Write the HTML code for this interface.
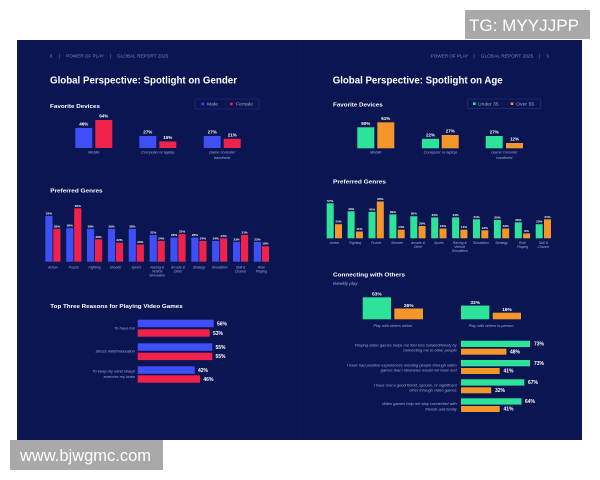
<!DOCTYPE html>
<html><head><meta charset="utf-8"><style>
html,body{margin:0;padding:0;background:#fff;width:600px;height:480px;overflow:hidden}
svg{display:block}
text{font-family:"Liberation Sans",Arial,sans-serif}
.h{fill:#fff;font-weight:bold}
.hd{fill:#7f87b5;font-size:4.2px}
.v{fill:#fff;font-weight:bold;text-anchor:middle}
.lb{fill:#a4aad4;font-style:italic;text-anchor:middle;font-size:3.9px}
.gl{fill:#a4aad4;font-style:italic;text-anchor:middle;font-size:3.4px}
.gv{fill:#fff;font-weight:bold;text-anchor:middle;font-size:3.1px}
.rl{fill:#a4aad4;font-style:italic;text-anchor:end;font-size:4px}
.hv{fill:#fff;font-weight:bold;font-size:5px}
</style></head><body>
<svg width="600" height="480" viewBox="0 0 600 480" xmlns="http://www.w3.org/2000/svg">
<rect x="0" y="0" width="600" height="480" fill="#fff"/>
<rect x="17" y="40" width="565" height="400" fill="#0b1552"/>
<line x1="300" y1="40" x2="300" y2="440" stroke="#121c5c" stroke-width="1"/>

<!-- watermarks -->
<rect x="465" y="10" width="125" height="29" fill="#a9a9a9"/>
<text x="469" y="31" font-size="17" fill="#fff" textLength="110" lengthAdjust="spacingAndGlyphs">TG: MYYJJPP</text>
<rect x="10" y="440" width="153" height="30" fill="#a9a9a9"/>
<text x="20" y="461" font-size="16.5" fill="#fff" textLength="131" lengthAdjust="spacingAndGlyphs">www.bjwgmc.com</text>

<!-- LEFT PAGE -->
<text class="hd" x="50" y="57.5">8</text>
<text class="hd" x="59" y="57.5">|</text>
<text class="hd" x="66.3" y="57.5" textLength="37.7" lengthAdjust="spacingAndGlyphs">POWER OF PLAY</text>
<text class="hd" x="110" y="57.5">|</text>
<text class="hd" x="117" y="57.5" textLength="51.3" lengthAdjust="spacingAndGlyphs">GLOBAL REPORT 2025</text>

<text class="h" x="50" y="83.5" font-size="10" textLength="187" lengthAdjust="spacingAndGlyphs">Global Perspective: Spotlight on Gender</text>
<text class="h" x="50" y="108" font-size="5.5" textLength="50" lengthAdjust="spacingAndGlyphs">Favorite Devices</text>

<rect x="195" y="99" width="64" height="10" rx="1" fill="none" stroke="#2a3583" stroke-width="0.6"/>
<rect x="201.5" y="102.7" width="2.6" height="2.6" fill="#3e4ff5"/>
<text x="207" y="105.6" font-size="4.3" fill="#a4aad4" textLength="11" lengthAdjust="spacingAndGlyphs">Male</text>
<rect x="230" y="102.7" width="2.6" height="2.6" fill="#f0214a"/>
<text x="236" y="105.6" font-size="4.3" fill="#a4aad4" textLength="17" lengthAdjust="spacingAndGlyphs">Female</text>

<!-- left devices -->
<rect x="75.3" y="128" width="17" height="20" fill="#3e4ff5"/>
<rect x="95.3" y="120" width="17" height="28" fill="#f0214a"/>
<rect x="139.3" y="136" width="17" height="12" fill="#3e4ff5"/>
<rect x="159.3" y="141.4" width="17" height="6.6" fill="#f0214a"/>
<rect x="203.7" y="136" width="17" height="12" fill="#3e4ff5"/>
<rect x="223.7" y="138.8" width="17" height="9.2" fill="#f0214a"/>
<g class="v" font-size="4.5">
<text x="83.8" y="125.5">46%</text>
<text x="103.8" y="117.5">64%</text>
<text x="147.8" y="133.5">27%</text>
<text x="167.8" y="138.9">15%</text>
<text x="212.2" y="133.5">27%</text>
<text x="232.2" y="136.3">21%</text>
</g>
<text class="lb" x="93.8" y="153.5">Mobile</text>
<text class="lb" x="157.8" y="153.5">Computer or laptop</text>
<text class="lb" x="222" y="153.5">Game console/</text>
<text class="lb" x="222" y="159">handheld</text>

<!-- left genres -->
<text class="h" x="50.3" y="192.5" font-size="5.5" textLength="52.3" lengthAdjust="spacingAndGlyphs">Preferred Genres</text>
<g fill="#3e4ff5">
<rect x="45.3" y="216.0" width="7.2" height="45.7"/>
<rect x="66.2" y="228.1" width="7.2" height="33.6"/>
<rect x="87.0" y="228.9" width="7.2" height="32.8"/>
<rect x="107.9" y="228.9" width="7.2" height="32.8"/>
<rect x="128.7" y="228.9" width="7.2" height="32.8"/>
<rect x="149.6" y="235.0" width="7.2" height="26.7"/>
<rect x="170.4" y="237.6" width="7.2" height="24.1"/>
<rect x="191.3" y="237.6" width="7.2" height="24.1"/>
<rect x="212.1" y="241.0" width="7.2" height="20.7"/>
<rect x="233.0" y="241.9" width="7.2" height="19.8"/>
<rect x="253.8" y="241.9" width="7.2" height="19.8"/>
</g>
<g fill="#f0214a">
<rect x="53.3" y="228.9" width="7.2" height="32.8"/>
<rect x="74.2" y="208.3" width="7.2" height="53.4"/>
<rect x="95.0" y="239.3" width="7.2" height="22.4"/>
<rect x="115.9" y="242.7" width="7.2" height="19.0"/>
<rect x="136.7" y="244.5" width="7.2" height="17.2"/>
<rect x="157.6" y="241.0" width="7.2" height="20.7"/>
<rect x="178.4" y="234.1" width="7.2" height="27.6"/>
<rect x="199.3" y="241.0" width="7.2" height="20.7"/>
<rect x="220.1" y="238.4" width="7.2" height="23.3"/>
<rect x="241.0" y="235.0" width="7.2" height="26.7"/>
<rect x="261.8" y="246.2" width="7.2" height="15.5"/>
</g>
<g class="gv">
<text x="48.9" y="214.5">53%</text><text x="56.9" y="227.4">38%</text>
<text x="69.8" y="226.6">39%</text><text x="77.8" y="206.8">62%</text>
<text x="90.6" y="227.4">38%</text><text x="98.6" y="237.8">26%</text>
<text x="111.5" y="227.4">38%</text><text x="119.5" y="241.2">22%</text>
<text x="132.3" y="227.4">38%</text><text x="140.3" y="243.0">20%</text>
<text x="153.2" y="233.5">31%</text><text x="161.2" y="239.5">24%</text>
<text x="174.0" y="236.1">28%</text><text x="182.0" y="232.6">32%</text>
<text x="194.9" y="236.1">28%</text><text x="202.9" y="239.5">24%</text>
<text x="215.7" y="239.5">24%</text><text x="223.7" y="236.9">27%</text>
<text x="236.6" y="240.4">23%</text><text x="244.6" y="233.5">31%</text>
<text x="257.4" y="240.4">23%</text><text x="265.4" y="244.7">18%</text>
</g>
<g class="gl">
<text x="52.9" y="268.3">Action</text>
<text x="73.8" y="268.3">Puzzle</text>
<text x="94.6" y="268.3">Fighting</text>
<text x="115.5" y="268.3">Shooter</text>
<text x="136.3" y="268.3">Sports</text>
<text x="157.2" y="268.3">Racing &amp;</text><text x="157.2" y="272.5">Vehicle</text><text x="157.2" y="276.7">Simulation</text>
<text x="178.0" y="268.3">Arcade &amp;</text><text x="178.0" y="272.5">Other</text>
<text x="198.9" y="268.3">Strategy</text>
<text x="219.7" y="268.3">Simulation</text>
<text x="240.6" y="268.3">Skill &amp;</text><text x="240.6" y="272.5">Chance</text>
<text x="261.4" y="268.3">Role</text><text x="261.4" y="272.5">Playing</text>
</g>

<!-- reasons -->
<text class="h" x="50.3" y="307.8" font-size="5.2" textLength="132.4" lengthAdjust="spacingAndGlyphs">Top Three Reasons for Playing Video Games</text>
<rect x="137.7" y="319.7" width="76" height="7.5" fill="#3e4ff5"/>
<rect x="137.7" y="329.3" width="72" height="7.4" fill="#f0214a"/>
<rect x="137.7" y="343.3" width="74.6" height="7.5" fill="#3e4ff5"/>
<rect x="137.7" y="352.7" width="74.6" height="7.4" fill="#f0214a"/>
<rect x="137.7" y="366.3" width="57" height="7.5" fill="#3e4ff5"/>
<rect x="137.7" y="375.3" width="62.4" height="7.4" fill="#f0214a"/>
<text class="hv" x="217" y="325.3">56%</text>
<text class="hv" x="213" y="334.8">53%</text>
<text class="hv" x="215.5" y="348.9">55%</text>
<text class="hv" x="215.5" y="358.2">55%</text>
<text class="hv" x="198" y="371.9">42%</text>
<text class="hv" x="203.4" y="380.8">46%</text>
<text class="rl" x="135" y="329.5">To have fun</text>
<text class="rl" x="135" y="352.7">Stress relief/relaxation</text>
<text class="rl" x="135" y="372.3">To keep my mind sharp/</text>
<text class="rl" x="135" y="377.8">exercise my brain</text>

<!-- RIGHT PAGE -->
<text class="hd" x="430.7" y="57.5" textLength="37.6" lengthAdjust="spacingAndGlyphs">POWER OF PLAY</text>
<text class="hd" x="473.5" y="57.5">|</text>
<text class="hd" x="480.7" y="57.5" textLength="52.6" lengthAdjust="spacingAndGlyphs">GLOBAL REPORT 2025</text>
<text class="hd" x="539" y="57.5">|</text>
<text class="hd" x="546.5" y="57.5">9</text>

<text class="h" x="332.7" y="83.5" font-size="10" textLength="170" lengthAdjust="spacingAndGlyphs">Global Perspective: Spotlight on Age</text>
<text class="h" x="333" y="106.5" font-size="5.5" textLength="49.7" lengthAdjust="spacingAndGlyphs">Favorite Devices</text>

<rect x="467.7" y="99" width="73" height="9.3" rx="1" fill="none" stroke="#2a3583" stroke-width="0.6"/>
<rect x="473" y="102.4" width="2.6" height="2.6" fill="#2de39a"/>
<text x="478" y="105.3" font-size="4.3" fill="#a4aad4" textLength="20.5" lengthAdjust="spacingAndGlyphs">Under 35</text>
<rect x="510.7" y="102.4" width="2.6" height="2.6" fill="#f4962a"/>
<text x="516" y="105.3" font-size="4.3" fill="#a4aad4" textLength="18.3" lengthAdjust="spacingAndGlyphs">Over 55</text>

<rect x="357.3" y="127.3" width="17" height="21" fill="#2de39a"/>
<rect x="377.3" y="122.3" width="17" height="26" fill="#f4962a"/>
<rect x="422" y="138.8" width="17" height="9.5" fill="#2de39a"/>
<rect x="441.7" y="135" width="17" height="13.3" fill="#f4962a"/>
<rect x="485.7" y="136" width="17" height="12.3" fill="#2de39a"/>
<rect x="506" y="143" width="17" height="5.3" fill="#f4962a"/>
<g class="v" font-size="4.5">
<text x="365.8" y="124.8">50%</text>
<text x="385.8" y="119.8">61%</text>
<text x="430.5" y="136.3">22%</text>
<text x="450.2" y="132.5">27%</text>
<text x="494.2" y="133.5">27%</text>
<text x="514.5" y="140.5">12%</text>
</g>
<text class="lb" x="375.8" y="153.5">Mobile</text>
<text class="lb" x="440.3" y="153.5">Computer or laptop</text>
<text class="lb" x="504.3" y="153.5">Game console/</text>
<text class="lb" x="504.3" y="159">handheld</text>

<!-- right genres -->
<text class="h" x="333" y="183.5" font-size="5.5" textLength="53" lengthAdjust="spacingAndGlyphs">Preferred Genres</text>
<g fill="#2de39a">
<rect x="326.7" y="203.3" width="7" height="35.0"/>
<rect x="347.6" y="211.3" width="7" height="27.0"/>
<rect x="368.5" y="211.9" width="7" height="26.4"/>
<rect x="389.4" y="214.4" width="7" height="23.9"/>
<rect x="410.3" y="216.2" width="7" height="22.1"/>
<rect x="431.2" y="217.4" width="7" height="20.9"/>
<rect x="452.1" y="217.4" width="7" height="20.9"/>
<rect x="473.0" y="219.3" width="7" height="19.0"/>
<rect x="493.9" y="219.9" width="7" height="18.4"/>
<rect x="514.8" y="222.3" width="7" height="16.0"/>
<rect x="535.7" y="224.2" width="7" height="14.1"/>
</g>
<g fill="#f4962a">
<rect x="335.0" y="224.2" width="7" height="14.1"/>
<rect x="355.9" y="231.5" width="7" height="6.8"/>
<rect x="376.8" y="201.5" width="7" height="36.8"/>
<rect x="397.7" y="229.7" width="7" height="8.6"/>
<rect x="418.6" y="226.0" width="7" height="12.3"/>
<rect x="439.5" y="228.5" width="7" height="9.8"/>
<rect x="460.4" y="229.7" width="7" height="8.6"/>
<rect x="481.3" y="230.3" width="7" height="8.0"/>
<rect x="502.2" y="228.5" width="7" height="9.8"/>
<rect x="523.1" y="233.4" width="7" height="4.9"/>
<rect x="544.0" y="219.3" width="7" height="19.0"/>
</g>
<g class="gv">
<text x="330.2" y="201.8">57%</text><text x="338.5" y="222.7">23%</text>
<text x="351.1" y="209.8">44%</text><text x="359.4" y="230.0">11%</text>
<text x="372.0" y="210.4">43%</text><text x="380.3" y="200.0">60%</text>
<text x="392.9" y="212.9">39%</text><text x="401.2" y="228.2">14%</text>
<text x="413.8" y="214.7">36%</text><text x="422.1" y="224.5">20%</text>
<text x="434.7" y="215.9">34%</text><text x="443.0" y="227.0">16%</text>
<text x="455.6" y="215.9">34%</text><text x="463.9" y="228.2">14%</text>
<text x="476.5" y="217.8">31%</text><text x="484.8" y="228.8">13%</text>
<text x="497.4" y="218.4">30%</text><text x="505.7" y="227.0">16%</text>
<text x="518.3" y="220.8">26%</text><text x="526.6" y="231.9">8%</text>
<text x="539.2" y="222.7">23%</text><text x="547.5" y="217.8">31%</text>
</g>
<g class="gl">
<text x="334.4" y="243.8">Action</text>
<text x="355.3" y="243.8">Fighting</text>
<text x="376.2" y="243.8">Puzzle</text>
<text x="397.1" y="243.8">Shooter</text>
<text x="418.0" y="243.8">Arcade &amp;</text><text x="418.0" y="247.8">Other</text>
<text x="438.9" y="243.8">Sports</text>
<text x="459.8" y="243.8">Racing &amp;</text><text x="459.8" y="247.8">Vehicle</text><text x="459.8" y="251.8">Simulation</text>
<text x="480.7" y="243.8">Simulation</text>
<text x="501.6" y="243.8">Strategy</text>
<text x="522.5" y="243.8">Role</text><text x="522.5" y="247.8">Playing</text>
<text x="543.4" y="243.8">Skill &amp;</text><text x="543.4" y="247.8">Chance</text>
</g>

<!-- connecting -->
<text class="h" x="333" y="276.5" font-size="5.5" textLength="72" lengthAdjust="spacingAndGlyphs">Connecting with Others</text>
<text x="333" y="285" font-size="4.3" font-style="italic" fill="#a4aad4" textLength="24.7" lengthAdjust="spacingAndGlyphs">Weekly play</text>

<rect x="362.7" y="297.3" width="28.3" height="22" fill="#2de39a"/>
<rect x="394.3" y="308.5" width="28.7" height="10.8" fill="#f4962a"/>
<rect x="461" y="305.6" width="28.3" height="13.7" fill="#2de39a"/>
<rect x="492.7" y="312.7" width="28.3" height="6.6" fill="#f4962a"/>
<g class="v" font-size="4.8">
<text x="376.8" y="295.5">53%</text>
<text x="408.7" y="306.8">26%</text>
<text x="475.2" y="304">33%</text>
<text x="507" y="311">16%</text>
</g>
<text class="lb" x="392.8" y="327" font-size="4.2">Play with others online</text>
<text class="lb" x="491" y="327" font-size="4.2">Play with others in-person</text>

<rect x="461" y="340.7" width="69" height="6.3" fill="#2de39a"/>
<rect x="461" y="348.7" width="45.4" height="6" fill="#f4962a"/>
<rect x="461" y="360" width="69" height="6.3" fill="#2de39a"/>
<rect x="461" y="368" width="38.7" height="6" fill="#f4962a"/>
<rect x="461" y="379.3" width="63.3" height="6.3" fill="#2de39a"/>
<rect x="461" y="387.3" width="30.2" height="6" fill="#f4962a"/>
<rect x="461" y="398.3" width="60.5" height="6.3" fill="#2de39a"/>
<rect x="461" y="406" width="38.7" height="6" fill="#f4962a"/>
<text class="hv" x="534" y="345.6">73%</text>
<text class="hv" x="510" y="353.4">48%</text>
<text class="hv" x="534" y="364.9">73%</text>
<text class="hv" x="503.5" y="372.7">41%</text>
<text class="hv" x="528" y="384.2">67%</text>
<text class="hv" x="495" y="392">32%</text>
<text class="hv" x="525" y="403.2">64%</text>
<text class="hv" x="503.5" y="410.7">41%</text>
<text class="rl" x="456.7" y="346.3">Playing video games helps me feel less isolated/lonely by</text>
<text class="rl" x="456.7" y="351.6">connecting me to other people</text>
<text class="rl" x="456.7" y="366.3">I have had positive experiences meeting people through video</text>
<text class="rl" x="456.7" y="371.6">games that I otherwise would not have met</text>
<text class="rl" x="456.7" y="386.3">I have met a good friend, spouse, or significant</text>
<text class="rl" x="456.7" y="391.4">other through video games</text>
<text class="rl" x="456.7" y="405">Video games help me stay connected with</text>
<text class="rl" x="456.7" y="410.3">friends and family</text>
</svg>
</body></html>
